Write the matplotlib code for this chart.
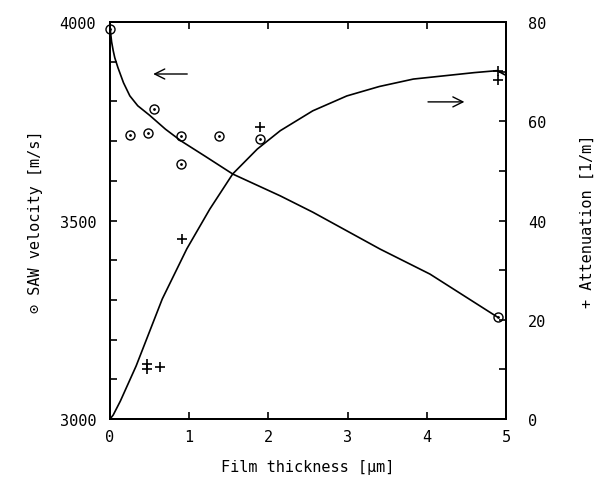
import matplotlib
matplotlib.use('Agg')
import matplotlib.pyplot as plt
from matplotlib.ticker import MultipleLocator

plt.rcParams['font.family'] = ['DejaVu Sans Mono', 'DejaVu Sans']
plt.rcParams['font.size'] = 11

# Kurve for hastighet (venstre akse)
x_hast = [0, 0.01, 0.02, 0.04, 0.06, 0.1, 0.17, 0.25, 0.35, 0.5, 0.7, 0.9, 1.2, 1.55, 2.15, 2.56, 3.41, 4.04, 4.89]
v_hast = [3990, 3968, 3950, 3928, 3910, 3885, 3847, 3814, 3789, 3765, 3730, 3700, 3662, 3617, 3562, 3521, 3428, 3365, 3257]

# Kurve for demping (hoyre akse)
x_demp = [0, 0.04, 0.13, 0.33, 0.66, 0.97, 1.26, 1.55, 1.86, 2.15, 2.56, 2.99, 3.4, 3.83, 4.6, 4.89, 4.98]
a_demp = [0, 0.8, 3.6, 10.7, 24.2, 34.3, 42.3, 49.4, 54.4, 58.1, 62.1, 65.1, 67.0, 68.5, 69.8, 70.2, 69.4]

# Malepunkter
x_sirkel = [0, 0.25, 0.48, 0.55, 0.9, 0.9, 1.37, 1.9, 4.9]
v_sirkel = [3982, 3715, 3720, 3781, 3713, 3642, 3713, 3705, 3257]

x_pluss = [0.47, 0.47, 0.63, 0.91, 1.9, 4.9, 4.9]
a_pluss = [11.0, 10.0, 10.5, 36.3, 58.8, 70.2, 68.3]

fig = plt.figure(figsize=(5.96, 4.81), dpi=100)
ax = fig.add_axes([0.1846, 0.1268, 0.6644, 0.8254])
ax2 = ax.twinx()

ax.plot(x_hast, v_hast, color='black', lw=1.2)
ax.plot(x_sirkel, v_sirkel, 'o', mfc='none', mec='black', ms=6.5, mew=1.0, clip_on=False)
ax.plot(x_sirkel, v_sirkel, '.', color='black', ms=2, clip_on=False)

ax2.plot(x_demp, a_demp, color='black', lw=1.2)
ax2.plot(x_pluss, a_pluss, '+', color='black', ms=7, mew=1.2, clip_on=False)

ax.annotate('', xy=(0.51, 3869), xytext=(1.01, 3869),
            arrowprops=dict(arrowstyle='->', color='black', lw=1.0, mutation_scale=18))
ax2.annotate('', xy=(4.51, 63.9), xytext=(3.98, 63.9),
             arrowprops=dict(arrowstyle='->', color='black', lw=1.0, mutation_scale=18))

ax.set_xlim(0, 5)
ax.set_ylim(3000, 4000)
ax2.set_ylim(0, 80)

ax.xaxis.set_major_locator(MultipleLocator(1))
ax.yaxis.set_major_locator(MultipleLocator(500))
ax.yaxis.set_minor_locator(MultipleLocator(100))
ax2.yaxis.set_major_locator(MultipleLocator(20))
ax2.yaxis.set_minor_locator(MultipleLocator(10))

ax.tick_params(axis='x', which='both', direction='in', top=True, length=5, width=1.2, pad=7)
ax.tick_params(axis='y', which='both', direction='in', length=5, width=1.2, pad=10)
ax2.tick_params(axis='y', which='both', direction='in', length=5, width=1.2, pad=16)

for a in (ax, ax2):
    for s in a.spines.values():
        s.set_linewidth(1.4)

ax.set_xlabel('Film thickness [\u00b5m]', labelpad=11)
ax.set_ylabel('\u2299 SAW velocity [m/s]', labelpad=12)
ax2.set_ylabel('+ Attenuation [1/m]', labelpad=24)

fig.savefig('out.png', dpi=100)
